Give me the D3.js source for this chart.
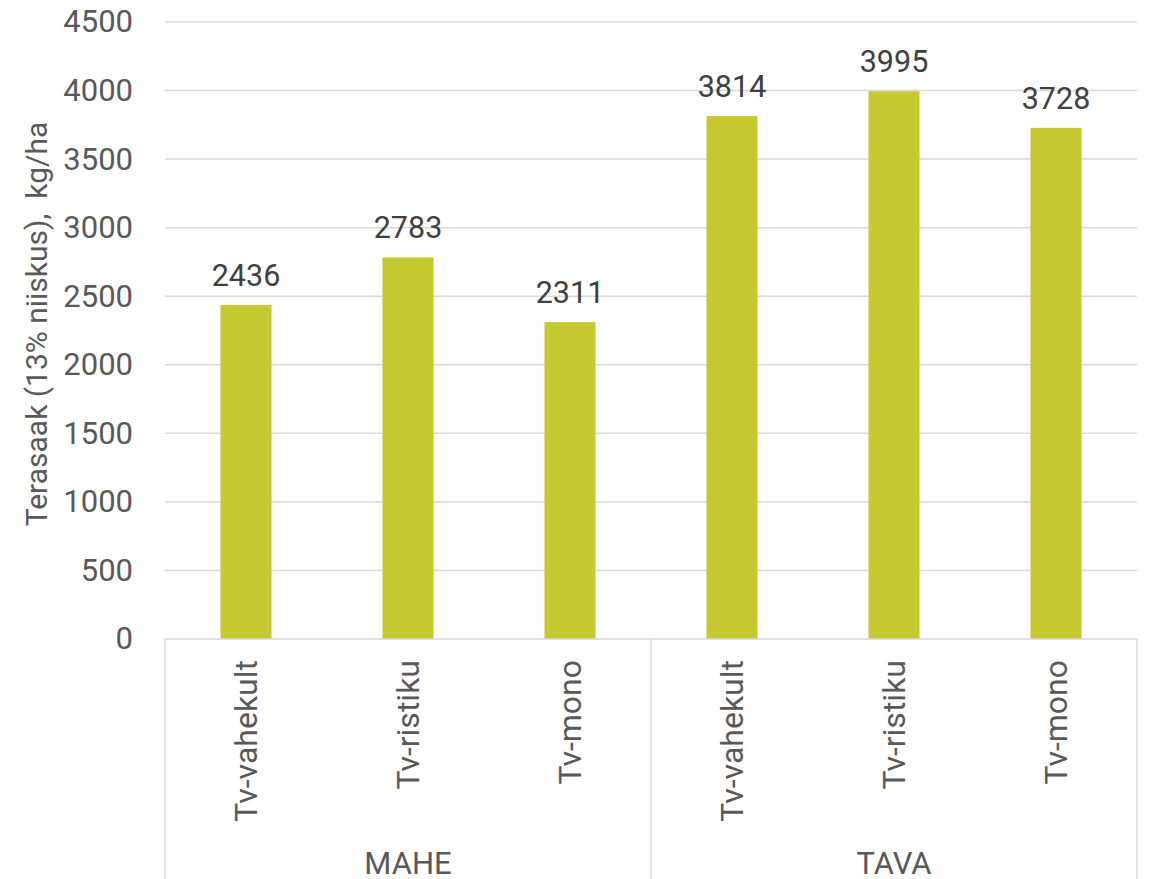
<!DOCTYPE html>
<html>
<head>
<meta charset="utf-8">
<script src="https://cdn.jsdelivr.net/npm/d3@7"></script>
<style>
  html, body { margin: 0; padding: 0; background: #fff; }
  svg text { font-family: Roboto, "Noto Sans", sans-serif; }
</style>
</head>
<body>
<svg id="chart" width="1150" height="879"></svg>
<script>
// Grain yield by crop rotation, organic (MAHE) vs conventional (TAVA)
const groups = ["MAHE", "TAVA"];
const categories = ["Tv-vahekult", "Tv-ristiku", "Tv-mono"];
const maheValues = [2436, 2783, 2311];
const tavaValues = [3814, 3995, 3728];
const yTicks = [0, 500, 1000, 1500, 2000, 2500, 3000, 3500, 4000, 4500];
const yTitle = "Terasaak (13% niiskus),  kg/ha";

const rows = [];
groups.forEach((g, gi) => {
  const vals = gi === 0 ? maheValues : tavaValues;
  categories.forEach((c, ci) => rows.push({ key: g + "|" + c, group: g, cat: c, value: vals[ci] }));
});

const svg = d3.select("#chart");
const plotLeft = 165, plotRight = 1137, plotTop = 22, plotBottom = 639;

const x = d3.scaleBand().domain(rows.map(d => d.key)).range([plotLeft, plotRight]).paddingInner(0.685).paddingOuter(0.3425);
const y = d3.scaleLinear().domain([0, 4500]).range([plotBottom, plotTop]);

const gridColor = "#d9d9d9";
const axisText = "#595959";

// horizontal gridlines
svg.append("g").selectAll("line").data(yTicks.filter(t => t > 0)).join("line")
  .attr("x1", plotLeft).attr("x2", plotRight)
  .attr("y1", d => y(d)).attr("y2", d => y(d))
  .attr("stroke", gridColor).attr("stroke-width", 1.5);

// y tick labels
const yAxis = svg.append("g").attr("transform", `translate(${plotLeft},0)`)
  .call(d3.axisLeft(y).tickValues(yTicks).tickFormat(d3.format("d")).tickSize(0).tickPadding(32));
yAxis.select(".domain").remove();
yAxis.selectAll("text").attr("font-size", 31).attr("fill", axisText)
  .attr("font-family", "Roboto, sans-serif");

// y axis title
svg.append("text")
  .attr("transform", `translate(47,324) rotate(-90)`)
  .attr("text-anchor", "middle")
  .attr("font-size", 30).attr("fill", axisText)
  .style("white-space", "pre")
  .text(yTitle);

// bars
svg.append("g").selectAll("rect").data(rows).join("rect")
  .attr("x", d => x(d.key)).attr("width", x.bandwidth())
  .attr("y", d => y(d.value)).attr("height", d => y(0) - y(d.value))
  .attr("fill", "#c4ca2f");

// value labels
svg.append("g").selectAll("text").data(rows).join("text")
  .attr("x", d => x(d.key) + x.bandwidth() / 2)
  .attr("y", d => y(d.value) - 19)
  .attr("text-anchor", "middle")
  .attr("font-size", 30.5).attr("fill", "#404040")
  .text(d => d.value);

// category axis baseline and group separators
svg.append("line").attr("x1", plotLeft).attr("x2", plotRight).attr("y1", plotBottom).attr("y2", plotBottom)
  .attr("stroke", gridColor).attr("stroke-width", 1.5);
const groupSpan = (plotRight - plotLeft) / groups.length;
d3.range(groups.length + 1).forEach(i => {
  svg.append("line")
    .attr("x1", plotLeft + i * groupSpan).attr("x2", plotLeft + i * groupSpan)
    .attr("y1", plotBottom).attr("y2", 879)
    .attr("stroke", gridColor).attr("stroke-width", 1.5);
});

// rotated category labels
svg.append("g").selectAll("text").data(rows).join("text")
  .attr("transform", d => `translate(${x(d.key) + x.bandwidth() / 2 + 11},660) rotate(-90)`)
  .attr("text-anchor", "end")
  .attr("font-size", 32).attr("fill", axisText)
  .text(d => d.cat);

// group labels
svg.append("g").selectAll("text").data(groups).join("text")
  .attr("x", (d, i) => plotLeft + (i + 0.5) * groupSpan)
  .attr("y", 874)
  .attr("text-anchor", "middle")
  .attr("font-size", 31).attr("fill", axisText)
  .text(d => d);
</script>
</body>
</html>
